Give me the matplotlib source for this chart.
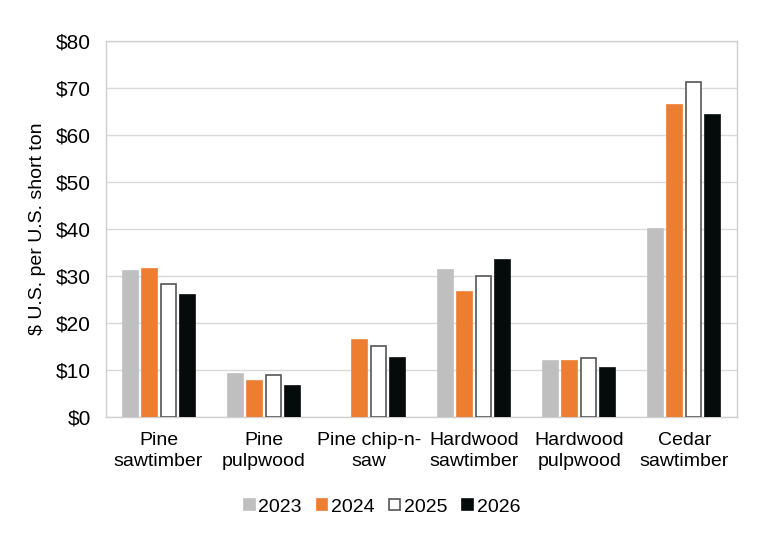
import matplotlib
matplotlib.use("Agg")
import matplotlib.pyplot as plt
import numpy as np
from matplotlib.patches import Patch

plt.rcParams['font.family'] = ['Liberation Sans', 'DejaVu Sans']

categories = ["Pine\nsawtimber", "Pine\npulpwood", "Pine chip-n-\nsaw",
              "Hardwood\nsawtimber", "Hardwood\npulpwood", "Cedar\nsawtimber"]
years = ["2023", "2024", "2025", "2026"]
v2023 = [31.1, 9.1, np.nan, 31.3, 12.0, 40.0]
v2024 = [31.5, 7.7, 16.4, 26.7, 11.9, 66.3]
v2025 = [28.4, 9.0, 15.1, 29.9, 12.5, 71.2]
v2026 = [26.0, 6.5, 12.6, 33.4, 10.4, 64.3]
yticks = [0, 10, 20, 30, 40, 50, 60, 70, 80]

series = [v2023, v2024, v2025, v2026]
faces = ["#BFBFBF", "#ED7D31", "#FFFFFF", "#050A0B"]
edges = ["#BFBFBF", "#ED7D31", "#555555", "#050A0B"]

fig = plt.figure(figsize=(7.63, 5.42), dpi=100)
ax = fig.add_axes([106/763, 1-417/542, 631/763, 376/542])

x = np.arange(len(categories))
w = 0.143
step = 0.181
for i, (vals, fc, ec) in enumerate(zip(series, faces, edges)):
    off = (i - 1.5) * step
    ax.bar(x + off, vals, width=w, color=fc, edgecolor=ec, linewidth=1.2, zorder=3, label=years[i])

ax.set_xlim(-0.5, len(categories) - 0.5)
ax.set_ylim(0, 80)
ax.set_yticks(yticks)
ax.set_yticklabels([f"${t}" for t in yticks], fontsize=15)
ax.set_xticks(x)
ax.set_xticklabels(categories, fontsize=14, linespacing=1.25)
ax.tick_params(axis='both', length=0)
ax.tick_params(axis='y', pad=11)
ax.tick_params(axis='x', pad=11)
ax.grid(axis='y', color='#D9D9D9', linewidth=1, zorder=0)
for s in ax.spines.values():
    s.set_color('#D0D0D0')
    s.set_linewidth(1)
ax.set_ylabel("$ U.S. per U.S. short ton", fontsize=14, labelpad=7)

handles = [Patch(facecolor=fc, edgecolor=ec, linewidth=1.2) for fc, ec in zip(faces, edges)]
fig.legend(handles, years, loc='center', bbox_to_anchor=(382/763, 1-507/542), ncol=4,
           frameon=False, fontsize=14, handlelength=0.55, handleheight=0.55,
           handletextpad=0.2, columnspacing=0.75)

fig.savefig("out.png", dpi=100)
